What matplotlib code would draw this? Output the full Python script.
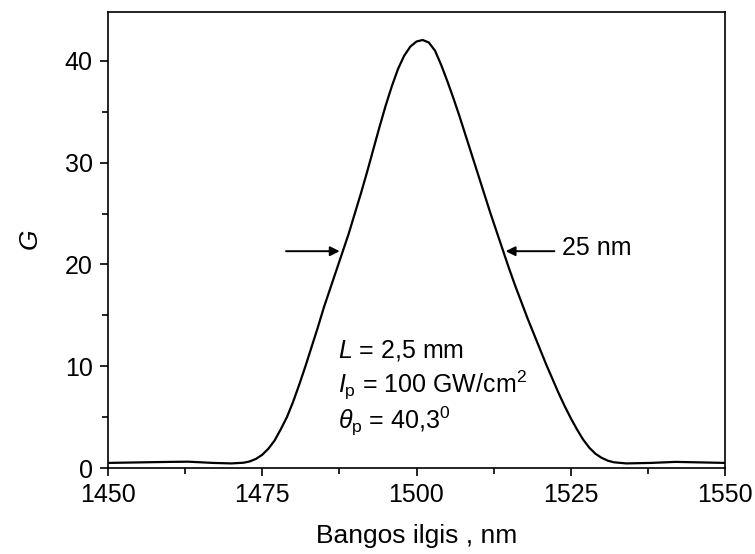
import matplotlib.pyplot as plt
from matplotlib.ticker import MultipleLocator

plt.rcParams['font.family'] = ['Liberation Sans', 'DejaVu Sans']
plt.rcParams['mathtext.fontset'] = 'custom'
plt.rcParams['mathtext.rm'] = 'Liberation Sans'
plt.rcParams['mathtext.it'] = 'Liberation Sans:italic'

# wavelength (nm) and gain
wl = [1450, 1455, 1460, 1463, 1467, 1470, 1472, 1473, 1474, 1475, 1476, 1477, 1478,
      1479, 1480, 1481, 1482, 1483, 1484, 1485, 1486, 1487, 1488, 1489, 1490,
      1491, 1492, 1493, 1494, 1495, 1496, 1497, 1498, 1499, 1500, 1501, 1502,
      1503, 1504, 1505, 1506, 1507, 1508, 1509, 1510, 1511, 1512, 1513, 1514,
      1515, 1516, 1517, 1518, 1519, 1520, 1521, 1522, 1523, 1524, 1525, 1526,
      1527, 1528, 1529, 1530, 1531, 1532, 1534, 1538, 1542, 1546, 1550]
gain = [0.5, 0.55, 0.6, 0.62, 0.5, 0.45, 0.52, 0.65, 0.9, 1.3, 1.9, 2.7, 3.8,
        5.0, 6.5, 8.2, 10.0, 11.9, 13.8, 15.8, 17.6, 19.4, 21.2, 23.0, 25.0,
        27.0, 29.1, 31.3, 33.5, 35.6, 37.5, 39.2, 40.5, 41.4, 41.9, 42.05, 41.8,
        41.0, 39.6, 38.0, 36.3, 34.5, 32.6, 30.7, 28.8, 26.9, 25.0, 23.2, 21.4,
        19.6, 17.9, 16.3, 14.7, 13.2, 11.7, 10.2, 8.8, 7.4, 6.1, 4.9, 3.8,
        2.8, 2.0, 1.4, 1.0, 0.72, 0.56, 0.45, 0.5, 0.6, 0.55, 0.5]

fig = plt.figure(figsize=(7.55, 5.54), dpi=100)
ax = fig.add_axes([108/755, (554-468)/554, (725-108)/755, (468-12)/554])

ax.plot(wl, gain, color='black', lw=1.6)

# FWHM arrows
ax.annotate('', xy=(1488.0, 21.3), xytext=(1478.4, 21.3),
            arrowprops=dict(arrowstyle='-|>', color='black', lw=1.4, mutation_scale=14))
ax.annotate('', xy=(1514.0, 21.3), xytext=(1522.8, 21.3),
            arrowprops=dict(arrowstyle='-|>', color='black', lw=1.4, mutation_scale=14))
ax.text(1523.6, 21.6, '25 nm', fontsize=18, va='center', ha='left')

ax.text(1487.3, 11.5, r'$L$ = 2,5 mm', fontsize=18, va='center', ha='left')
ax.text(1487.3, 8.1, r'$I_{\rm p}$ = 100 GW/cm$^2$', fontsize=18, va='center', ha='left')
ax.text(1487.3, 4.6, r'$\theta_{\rm p}$ = 40,3$^0$', fontsize=18, va='center', ha='left')

ax.set_xlim(1450, 1550)
ax.set_ylim(0, 44.8)
ax.xaxis.set_major_locator(MultipleLocator(25))
ax.xaxis.set_minor_locator(MultipleLocator(12.5))
ax.yaxis.set_major_locator(MultipleLocator(10))
ax.yaxis.set_minor_locator(MultipleLocator(5))
ax.tick_params(which='both', direction='out', top=False, right=False, width=1.2,
               labelsize=18, pad=5)
ax.tick_params(which='major', length=6)
ax.tick_params(which='minor', length=4)
for s in ax.spines.values():
    s.set_linewidth(1.2)

ax.set_xlabel('Bangos ilgis , nm', fontsize=19, labelpad=12)
ax.set_ylabel(r'$G$', fontsize=19, labelpad=16)

fig.savefig('out.png', dpi=100)
